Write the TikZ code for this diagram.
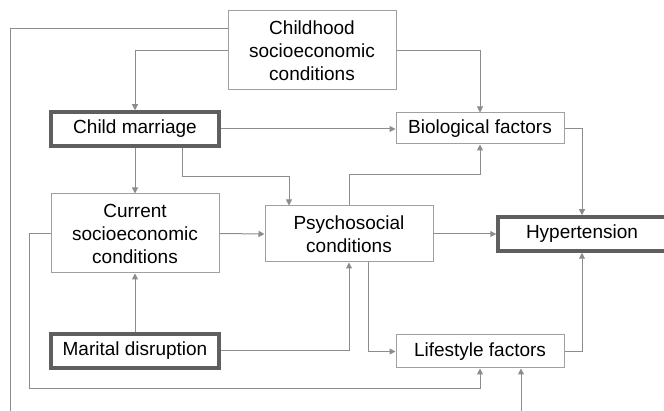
\documentclass[tikz,border=0pt]{standalone}
\usepackage{fontspec}
\setmainfont{Liberation Sans}
\usetikzlibrary{arrows.meta, positioning}
\definecolor{hbgray}{RGB}{160,160,160}
\definecolor{hbdark}{RGB}{95,95,95}
\definecolor{hbline}{RGB}{140,140,140}

\begin{document}
\begin{tikzpicture}[x=1pt, y=-1pt,
  factor/.style={rectangle, draw=hbgray, line width=1pt, minimum width=168pt, minimum height=32pt, align=center, inner sep=2pt, font=\fontsize{19}{23}\selectfont},
  keyfactor/.style={factor, draw=hbdark, line width=3.5pt, minimum height=34pt},
  arr/.style={-{Triangle[length=6pt, width=6pt]}, hbline, line width=1pt}
]
\useasboundingbox (0,0) rectangle (664,411);
\node[factor, minimum height=79pt] (childhood) at (312,50.5) {Childhood\\socioeconomic\\conditions};
\node[keyfactor] (marriage) at (135,129) {Child marriage};
\node[factor, minimum height=31pt] (bio) at (480,128.5) {Biological factors};
\node[factor, minimum height=79pt] (current) at (135,233.5) {Current\\socioeconomic\\conditions};
\node[factor, minimum height=56pt] (psycho) at (349,234) {Psychosocial\\conditions};
\node[keyfactor] (hyper) at (582,234) {Hypertension};
\node[keyfactor] (marital) at (135,351) {Marital disruption};
\node[factor, minimum height=33pt] (life) at (480,351.5) {Lifestyle factors};
\coordinate (leftend) at (10,411);
\coordinate (bottomstart) at (521,411);
\draw[hbline, line width=1pt] ([yshift=21.5pt]childhood.west) -| (leftend);
\draw[arr] (childhood.west) -| (marriage.north);
\draw[arr] (childhood.east) -| (bio.north);
\draw[arr] (marriage.east) -- (marriage.east -| bio.west);
\draw[arr] (bio.east) -| (hyper.north);
\draw[arr] (marriage.south) -- (current.north);
\draw[arr] ([xshift=47pt]marriage.south) -- ++(0,29) -| ([xshift=-60pt]psycho.north);
\draw[arr] (current.east) -- (psycho.west);
\draw[arr] (current.west) -- ++(-21,0) -- ++(0,155.5) -| (life.south);
\draw[arr] (psycho.north) -- ++(0,-31) -| (bio.south);
\draw[arr] (psycho.east) -- (hyper.west);
\draw[arr] ([xshift=19pt]psycho.south) |- (life.west);
\draw[arr] (marital.north) -- (current.south);
\draw[arr] (marital.east) -| (psycho.south);
\draw[arr] (life.east) -| (hyper.south);
\draw[arr] (bottomstart) -- (bottomstart |- life.south);
\end{tikzpicture}
\end{document}
